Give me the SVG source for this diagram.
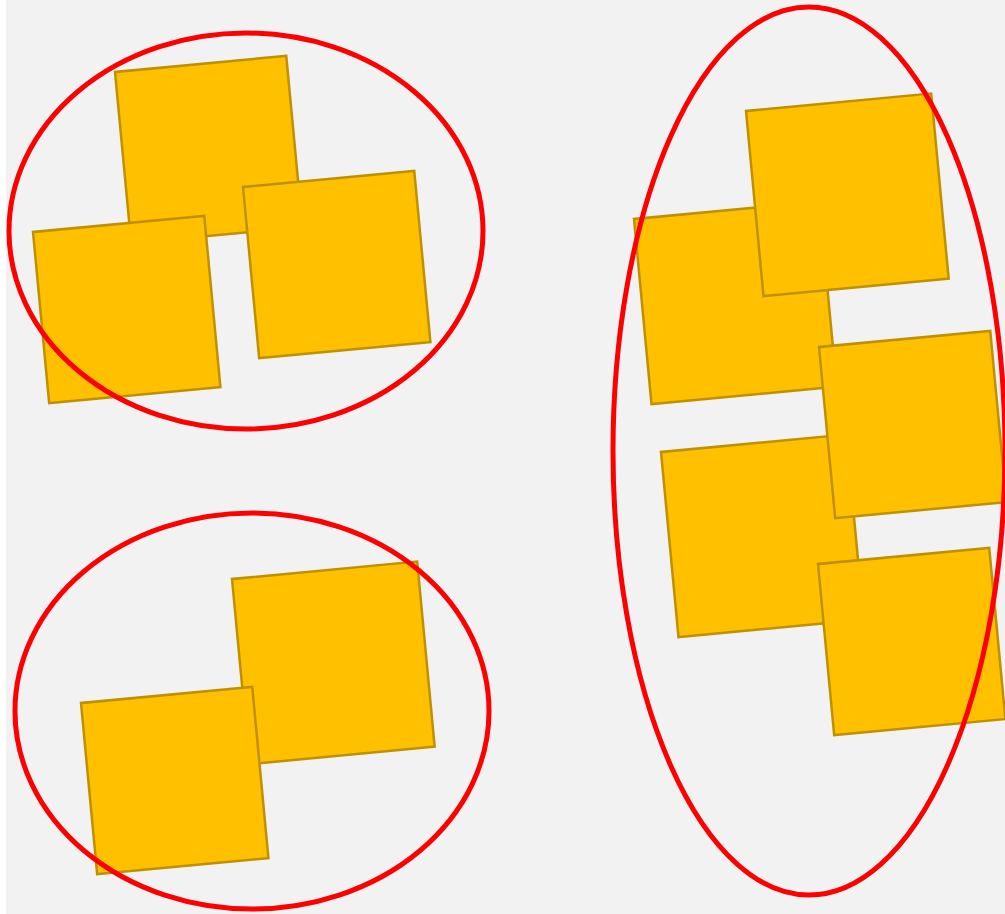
<svg xmlns="http://www.w3.org/2000/svg" width="1005" height="914" viewBox="0 0 1005 914">
<style>
.sq{fill:#ffc000;stroke:#bf9000;stroke-width:2.5}
.cl{fill:none;stroke:#ff0000;stroke-width:5}
</style>
<rect x="6" y="0" width="999" height="914" fill="#f2f2f2"/>
<g id="group-top-left">
<g id="sq1"><rect class="sq" width="172" height="172" transform="translate(115,72) rotate(-5.4)"/></g>
<g id="sq2"><rect class="sq" width="172" height="172" transform="translate(33,232) rotate(-5.4)"/></g>
<g id="sq3"><rect class="sq" width="172" height="172" transform="translate(243,187) rotate(-5.4)"/></g>
</g>
<g id="group-bottom-left">
<g id="sq4"><rect class="sq" width="186" height="186" transform="translate(232,579) rotate(-5.4)"/></g>
<g id="sq5"><rect class="sq" width="172" height="172" transform="translate(81,703) rotate(-5.4)"/></g>
</g>
<g id="group-right">
<g id="sq6"><rect class="sq" width="186" height="186" transform="translate(634,219) rotate(-5.4)"/></g>
<g id="sq7"><rect class="sq" width="186" height="186" transform="translate(746,111) rotate(-5.4)"/></g>
<g id="sq9"><rect class="sq" width="186" height="186" transform="translate(661,452) rotate(-5.4)"/></g>
<g id="sq8"><rect class="sq" width="172" height="172" transform="translate(819,347) rotate(-5.4)"/></g>
<g id="sq10"><rect class="sq" width="172" height="172" transform="translate(818,564) rotate(-5.4)"/></g>
</g>
<g id="clusters">
<ellipse class="cl" cx="246" cy="231" rx="237" ry="198"/>
<ellipse class="cl" cx="252" cy="711" rx="237" ry="198"/>
<ellipse class="cl" cx="809" cy="451" rx="196" ry="444"/>
</g>
</svg>
